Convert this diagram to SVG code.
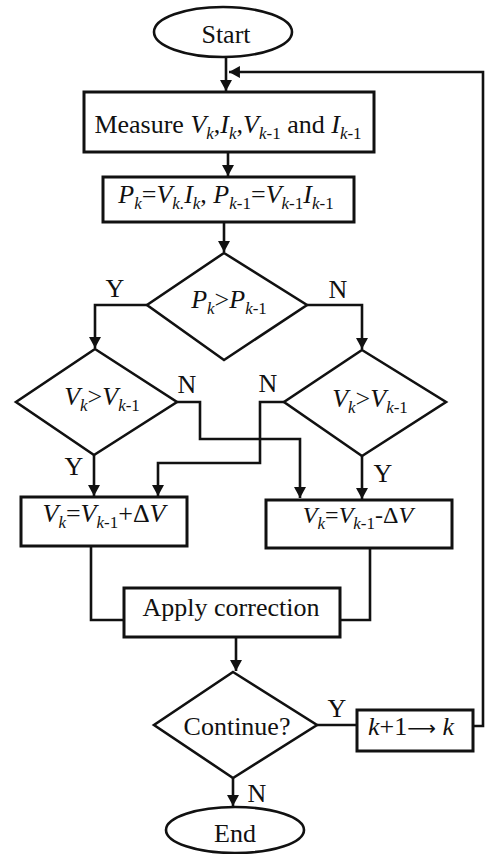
<svg xmlns="http://www.w3.org/2000/svg" width="486" height="854" viewBox="0 0 486 854">
<style>
.t{font-family:'Liberation Serif','DejaVu Serif',serif;font-size:26px;fill:#111;text-anchor:middle}
.i{font-style:italic}
.s{font-size:17px}
.arr{font-family:'DejaVu Sans',sans-serif;font-size:20px}
.shape{fill:#fff;stroke:#111;stroke-width:2.6}
.box{fill:#fff;stroke:#111;stroke-width:3}
.c{fill:none;stroke:#111;stroke-width:2.6}
.a{marker-end:url(#ah)}
</style>
<defs>
<marker id="ah" markerWidth="11" markerHeight="12" viewBox="0 0 10 11" refX="10" refY="5.5" orient="auto" markerUnits="userSpaceOnUse">
<path d="M0,0 L10,5.5 L0,11 z" fill="#111"/>
</marker>
</defs>
<rect width="486" height="854" fill="#fff"/>
<g id="connectors">
<path class="c a" d="M226,57 V91"/>
<path class="c a" d="M473,726 H483 V72 H229"/>
<path class="c a" d="M228,152 V176"/>
<path class="c a" d="M224,222 V252"/>
<path class="c a" d="M147,305 H95 V348"/>
<path class="c a" d="M307,305 H362 V349"/>
<path class="c a" d="M177,402 H200 V439 H300 V498"/>
<path class="c a" d="M284,402 H260 V463 H158 V496"/>
<path class="c a" d="M94,455 V496"/>
<path class="c a" d="M362,456 V499"/>
<path class="c" d="M91,546 V620 H124"/>
<path class="c" d="M370,548 V620 H340"/>
<path class="c a" d="M236,637 V671"/>
<path class="c" d="M317,725 H357"/>
<path class="c a" d="M233,778 V806"/>
</g>
<g id="start">
<ellipse class="shape" cx="223" cy="32" rx="69" ry="25"/>
<text class="t" x="226" y="43">Start</text>
</g>
<g id="measure">
<rect class="box" x="84" y="92" width="290" height="60"/>
<text class="t" x="228" y="133">Measure <tspan class="i">V</tspan><tspan class="s i" dy="6">k</tspan><tspan dy="-6">,</tspan><tspan class="i">I</tspan><tspan class="s i" dy="6">k</tspan><tspan dy="-6">,</tspan><tspan class="i">V</tspan><tspan class="s" dy="6"><tspan class="i">k</tspan>-1</tspan><tspan dy="-6"> and </tspan><tspan class="i">I</tspan><tspan class="s" dy="6"><tspan class="i">k</tspan>-1</tspan></text>
</g>
<g id="power">
<rect class="box" x="103" y="177" width="251" height="45"/>
<text class="t" x="226" y="203"><tspan class="i">P</tspan><tspan class="s i" dy="6">k</tspan><tspan dy="-6">=</tspan><tspan class="i">V</tspan><tspan class="s i" dy="6">k.</tspan><tspan class="i" dy="-6">I</tspan><tspan class="s i" dy="6">k</tspan><tspan dy="-6">, </tspan><tspan class="i">P</tspan><tspan class="s" dy="6"><tspan class="i">k</tspan>-1</tspan><tspan dy="-6">=</tspan><tspan class="i">V</tspan><tspan class="s" dy="6"><tspan class="i">k</tspan>-1</tspan><tspan class="i" dy="-6">I</tspan><tspan class="s" dy="6"><tspan class="i">k</tspan>-1</tspan></text>
</g>
<g id="d1">
<polygon class="shape" points="224,253 307,305 224,360 147,305"/>
<text class="t" x="229" y="308"><tspan class="i">P</tspan><tspan class="s i" dy="6">k</tspan><tspan dy="-6">&gt;</tspan><tspan class="i">P</tspan><tspan class="s" dy="6"><tspan class="i">k</tspan>-1</tspan></text>
</g>
<g id="d2">
<polygon class="shape" points="95,349 177,402 94,455 16,402"/>
<text class="t" x="102" y="405"><tspan class="i">V</tspan><tspan class="s i" dy="6">k</tspan><tspan dy="-6">&gt;</tspan><tspan class="i">V</tspan><tspan class="s" dy="6"><tspan class="i">k</tspan>-1</tspan></text>
</g>
<g id="d3">
<polygon class="shape" points="362,350 446,402 362,456 284,402"/>
<text class="t" x="370" y="407"><tspan class="i">V</tspan><tspan class="s i" dy="6">k</tspan><tspan dy="-6">&gt;</tspan><tspan class="i">V</tspan><tspan class="s" dy="6"><tspan class="i">k</tspan>-1</tspan></text>
</g>
<g id="inc">
<rect class="box" x="21" y="497" width="166" height="49"/>
<text class="t" x="104" y="522"><tspan class="i">V</tspan><tspan class="s i" dy="6">k</tspan><tspan dy="-6">=</tspan><tspan class="i">V</tspan><tspan class="s" dy="6"><tspan class="i">k</tspan>-1</tspan><tspan dy="-6">+Δ</tspan><tspan class="i">V</tspan></text>
</g>
<g id="dec">
<rect class="box" x="266" y="500" width="186" height="48"/>
<text class="t" x="358" y="523" style="font-size:24px"><tspan class="i">V</tspan><tspan class="s i" dy="6">k</tspan><tspan dy="-6">=</tspan><tspan class="i">V</tspan><tspan class="s" dy="6"><tspan class="i">k</tspan>-1</tspan><tspan dy="-6">-Δ</tspan><tspan class="i">V</tspan></text>
</g>
<g id="apply">
<rect class="box" x="124" y="588" width="216" height="49"/>
<text class="t" x="231" y="616">Apply correction</text>
</g>
<g id="d4">
<polygon class="shape" points="233,672 317,725 233,778 154,725"/>
<text class="t" x="237" y="735">Continue?</text>
</g>
<g id="inck">
<rect class="box" x="357" y="710" width="116" height="41"/>
<text class="t" x="411" y="735"><tspan class="i">k</tspan>+1<tspan class="arr">⟶</tspan> <tspan class="i">k</tspan></text>
</g>
<g id="end">
<ellipse class="shape" cx="235" cy="830" rx="69" ry="23"/>
<text class="t" x="235" y="842">End</text>
</g>
<g id="labels">
<text class="t" x="115" y="297">Y</text>
<text class="t" x="338" y="298">N</text>
<text class="t" x="187" y="393">N</text>
<text class="t" x="268" y="392">N</text>
<text class="t" x="74" y="475">Y</text>
<text class="t" x="383" y="482">Y</text>
<text class="t" x="337" y="717">Y</text>
<text class="t" x="257" y="802">N</text>
</g>
</svg>
